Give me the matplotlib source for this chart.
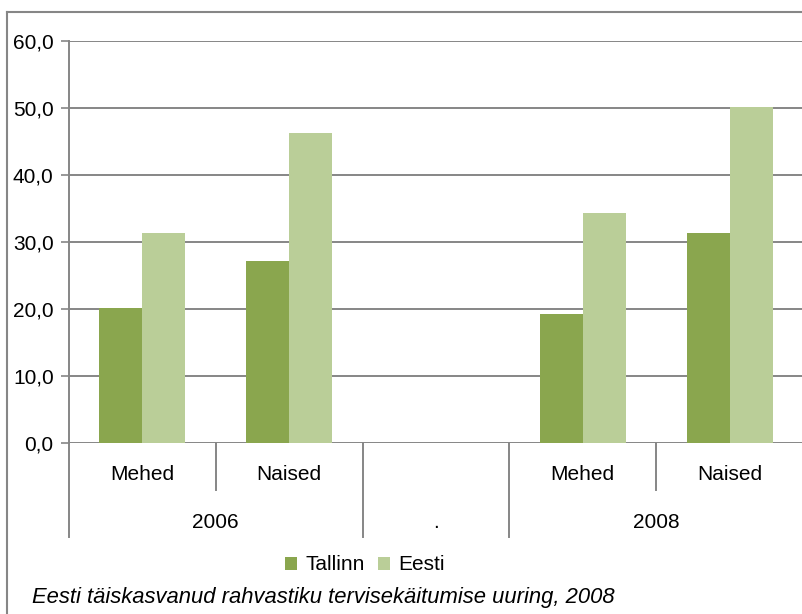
import numpy as np
import matplotlib
matplotlib.use("Agg")
import matplotlib.pyplot as plt
from matplotlib.lines import Line2D
from matplotlib.patches import Patch
import matplotlib.transforms as mtransforms

plt.rcParams['font.family'] = ['Liberation Sans', 'DejaVu Sans']

# ---- data ----
sub_labels = ["Mehed", "Naised", "", "Mehed", "Naised"]
group_labels = ["2006", ".", "2008"]
group_spans = [(0, 2), (2, 3), (3, 5)]   # slot ranges for group labels
tallinn = [20.1, 27.1, np.nan, 19.3, 31.3]
eesti = [31.3, 46.2, np.nan, 34.3, 50.1]
series_names = ["Tallinn", "Eesti"]
yticks = [0, 10, 20, 30, 40, 50, 60]
ytick_labels = ["0,0", "10,0", "20,0", "30,0", "40,0", "50,0", "60,0"]
source = "Eesti täiskasvanud rahvastiku tervisekäitumise uuring, 2008"

c_dark = "#8aa64e"
c_light = "#bace98"
grid_c = "#868686"
FS = 15
FS_SRC = 15.8

W, H = 803, 614
fig = plt.figure(figsize=(W / 100, H / 100), dpi=100)
L, R, T, B = 69, 803, 41, 443
ax = fig.add_axes([L / W, 1 - B / H, (R - L) / W, (B - T) / H])

x = np.arange(len(sub_labels))
bw = 0.293
ax.bar(x - bw / 2, tallinn, width=bw, color=c_dark, zorder=3)
ax.bar(x + bw / 2, eesti, width=bw, color=c_light, zorder=3)

ax.set_xlim(-0.5, len(sub_labels) - 0.5)
ax.set_ylim(0, 60)
ax.set_yticks(yticks)
ax.set_yticklabels(ytick_labels, fontsize=FS)
ax.set_xticks([])
for v in yticks:
    ax.axhline(v, color=grid_c, lw=1.4, zorder=1)
for s in ["top", "right", "bottom"]:
    ax.spines[s].set_visible(False)
ax.spines["left"].set_color(grid_c)
ax.spines["left"].set_linewidth(1.4)
ax.tick_params(axis="y", direction="out", length=5.5, width=1.2, color=grid_c, pad=5.5)

tr = mtransforms.blended_transform_factory(ax.transData, ax.transAxes)
ph = B - T
inner_bot = -(490 - B) / ph
outer_bot = -(537 - B) / ph
# separators
for b in range(len(sub_labels) + 1):
    xb = b - 0.5
    is_group = any(xb == s - 0.5 for s, e in group_spans) or xb == len(sub_labels) - 0.5
    ybot = outer_bot if is_group else inner_bot
    ax.add_line(Line2D([xb, xb], [0, ybot], transform=tr, color=grid_c, lw=1.4, clip_on=False))

for i, lab in enumerate(sub_labels):
    if lab:
        ax.text(i, -(475 - B) / ph, lab, transform=tr, ha="center", va="center", fontsize=FS)
for lab, (s, e) in zip(group_labels, group_spans):
    ax.text((s + e - 1) / 2, -(523 - B) / ph, lab, transform=tr, ha="center", va="center", fontsize=FS)

handles = [Patch(facecolor=c_dark, edgecolor="none"), Patch(facecolor=c_light, edgecolor="none")]
fig.legend(handles, series_names, loc="center", bbox_to_anchor=(365 / W, 1 - 565 / H),
           ncol=2, frameon=False, fontsize=FS, handlelength=0.6, handleheight=0.6,
           handletextpad=0.4, columnspacing=0.6, borderpad=0)

fig.text(32 / W, 1 - 597 / H, source, fontsize=FS_SRC, style="italic", ha="left", va="center")

# outer chart border (left and top visible)
fig.add_artist(Line2D([7 / W, 7 / W], [0, 1 - 12 / H], transform=fig.transFigure, color=grid_c, lw=1.5))
fig.add_artist(Line2D([7 / W, 1], [1 - 12 / H, 1 - 12 / H], transform=fig.transFigure, color=grid_c, lw=1.5))

fig.savefig("out.png", dpi=100)
